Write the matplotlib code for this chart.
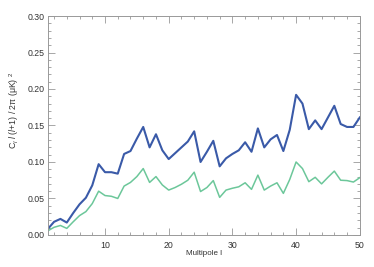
import matplotlib
matplotlib.use("Agg")
import matplotlib.pyplot as plt
from matplotlib.ticker import MultipleLocator, FormatStrFormatter
import numpy as np

# Multipole index and the two band-power curves
ell = np.arange(1, 51)
power_blue = [
    0.008, 0.018, 0.022, 0.017, 0.030, 0.042, 0.051, 0.068, 0.097, 0.086,
    0.086, 0.084, 0.111, 0.115, 0.132, 0.148, 0.120, 0.138, 0.116, 0.104,
    0.112, 0.120, 0.128, 0.142, 0.100, 0.114, 0.129, 0.094, 0.105, 0.111,
    0.116, 0.127, 0.114, 0.146, 0.120, 0.131, 0.137, 0.115, 0.144, 0.192,
    0.180, 0.145, 0.157, 0.145, 0.161, 0.177, 0.152, 0.148, 0.148, 0.161,
]
power_green = [
    0.0055, 0.0105, 0.013, 0.009, 0.018, 0.0265, 0.032, 0.043, 0.060, 0.054,
    0.053, 0.050, 0.067, 0.072, 0.080, 0.091, 0.072, 0.080, 0.0685, 0.0615,
    0.065, 0.0695, 0.075, 0.086, 0.0595, 0.065, 0.0745, 0.0515, 0.0615, 0.064,
    0.066, 0.0715, 0.0625, 0.082, 0.0615, 0.067, 0.0715, 0.057, 0.076, 0.100,
    0.091, 0.073, 0.079, 0.070, 0.079, 0.0875, 0.075, 0.0745, 0.0725, 0.0785,
]

plt.rcParams["font.family"] = ["Liberation Sans", "DejaVu Sans"]
plt.rcParams["mathtext.fontset"] = "custom"
plt.rcParams["mathtext.rm"] = "Liberation Sans"
plt.rcParams["mathtext.it"] = "Liberation Sans:italic"

fig = plt.figure(figsize=(3.74, 2.67), dpi=100)
ax = fig.add_axes([0.1275, 0.12, 0.8345, 0.82])

ax.plot(ell, power_blue, color="#3a5aa8", linewidth=1.5)
ax.plot(ell, power_green, color="#6cc79a", linewidth=1.1)

ax.set_xlim(1, 50)
ax.set_ylim(0, 0.30)
ax.xaxis.set_major_locator(MultipleLocator(10))
ax.xaxis.set_minor_locator(MultipleLocator(2))
ax.yaxis.set_major_locator(MultipleLocator(0.05))
ax.yaxis.set_minor_locator(MultipleLocator(0.01))
ax.yaxis.set_major_formatter(FormatStrFormatter("%.2f"))

ax.tick_params(which="both", direction="in", top=True, right=True,
               color="#999999", labelsize=6.3, labelcolor="#333333")
ax.tick_params(axis="x", pad=4)
ax.tick_params(axis="y", pad=2)
ax.tick_params(which="major", length=5, width=0.6)
ax.tick_params(which="minor", length=2.5, width=0.6)
for sp in ax.spines.values():
    sp.set_color("#999999")
    sp.set_linewidth(0.7)

ax.set_xlabel("Multipole l", fontsize=5.8, color="#333333")
ax.xaxis.set_label_coords(0.5, -0.07)
ax.set_ylabel(r"C$_l$ $l$ ($l$+1) / 2π (μK) $^2$", fontsize=6.3,
              color="#333333")
ax.yaxis.set_label_coords(-0.085, 0.57)

fig.savefig("out.png", dpi=100)
